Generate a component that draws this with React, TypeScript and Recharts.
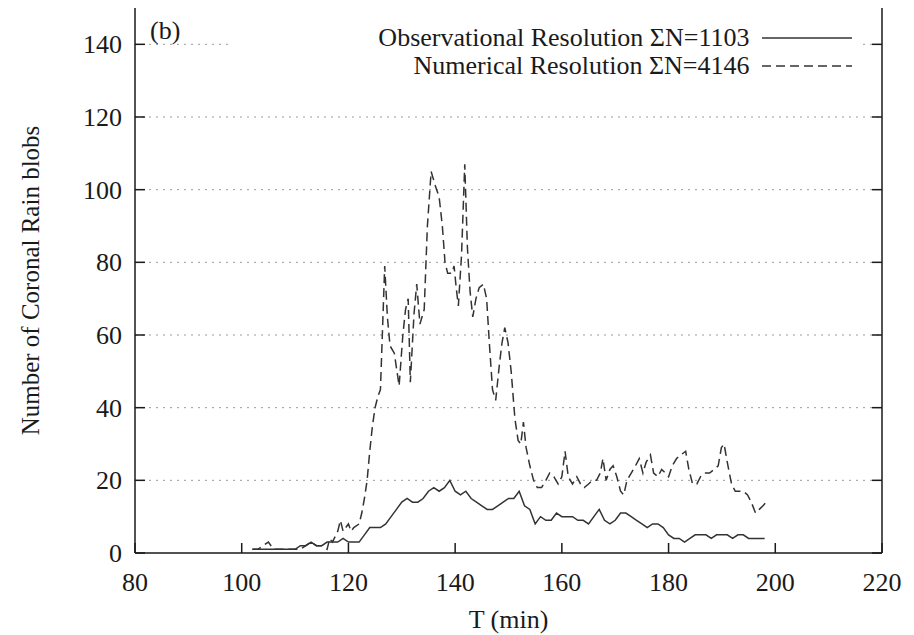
import React from "react";
import {
  LineChart,
  Line,
  XAxis,
  YAxis,
  CartesianGrid,
  Legend,
} from "recharts";

// observational resolution (solid)
const obsT = [
  102, 103, 104, 105, 106, 107, 108, 109, 110, 111, 112, 113, 114, 115, 116,
  117, 118, 119, 120, 121, 122, 123, 124, 125, 126, 127, 128, 129, 130, 131,
  132, 133, 134, 135, 136, 137, 138, 139, 140, 141, 142, 143, 144, 145, 146,
  147, 148, 149, 150, 151, 152, 153, 154, 155, 156, 157, 158, 159, 160, 161,
  162, 163, 164, 165, 166, 167, 168, 169, 170, 171, 172, 173, 174, 175, 176,
  177, 178, 179, 180, 181, 182, 183, 184, 185, 186, 187, 188, 189, 190, 191,
  192, 193, 194, 195, 196, 197, 198,
];
const obsN = [
  1, 1, 1, 1, 1, 1, 1, 1, 1, 2, 2, 3, 2, 2, 3,
  3, 3, 4, 3, 3, 3, 5, 7, 7, 7, 8, 10, 12, 14, 15,
  14, 14, 15, 17, 18, 17, 18, 20, 17, 16, 17, 15, 14, 13, 12,
  12, 13, 14, 15, 15, 17, 13, 12, 8, 10, 9, 9, 11, 10, 10,
  10, 9, 9, 8, 10, 12, 9, 8, 9, 11, 11, 10, 9, 8, 7,
  8, 8, 7, 5, 4, 4, 3, 4, 5, 5, 5, 4, 5, 5, 5,
  4, 5, 5, 4, 4, 4, 4,
];

// numerical resolution (dashed)
const numT = [
  102, 103, 104, 105, 106, 107, 108, 109, 110, 111, 112, 113, 114, 115, 116,
  116.5, 117, 118, 118.5, 119, 120, 120.5, 121, 122, 122.5, 123, 123.5, 124,
  124.5, 125, 125.5, 126, 126.8, 127.3, 127.8, 128.6, 129.5, 130.2, 130.7,
  131.2, 131.6, 132.3, 132.8, 133.4, 134.2, 134.8, 135.5, 136.3, 137, 137.6,
  138.1, 138.6, 139.4, 139.8, 140.2, 140.6, 141.2, 141.8, 142.3, 142.8, 143.3,
  143.9, 144.5, 145.3, 145.9, 146.4, 147, 147.6, 148.3, 148.8, 149.3, 149.9,
  150.5, 151.2, 151.8, 152.3, 152.8, 153.3, 154, 154.7, 155.4, 156.2, 157,
  157.7, 158.5, 159.3, 160, 160.6, 161.2, 162, 162.8, 163.5, 164.2, 165, 165.7,
  166.5, 167.2, 167.7, 168.3, 169, 169.6, 170.3, 171, 171.6, 172.2, 173, 173.8,
  174.5, 175.2, 175.8, 176.6, 177.2, 178, 178.7, 179.4, 180, 180.7, 181.5,
  182.3, 183.2, 183.8, 184.5, 185.3, 186, 186.8, 187.7, 188.5, 189.3, 189.9,
  190.4, 191, 191.8, 192.5, 193.2, 194, 194.8, 195.5, 196.3, 197, 197.7, 198.3,
];
const numN = [
  1, 1, 2, 3, 1, 1, 1, 1, 1, 1, 2, 3, 2, 2, 1,
  4, 3, 6, 9, 6, 8, 6, 7, 8, 11, 15, 20, 28,
  35, 40, 43, 45, 79, 65, 57, 55, 46, 60, 67,
  70, 47, 66, 74, 63, 67, 90, 105, 101, 98, 90,
  80, 77, 77, 79, 73, 68, 82, 107, 84, 72, 65,
  70, 73, 74, 70, 58, 45, 42, 52, 58, 62, 58,
  50, 37, 31, 30, 36, 29, 24, 20, 18, 18, 20,
  22, 21, 19, 21, 28, 21, 19, 21, 19, 18, 19, 20,
  20, 22, 26, 20, 23, 24, 21, 17, 16, 20, 22, 24,
  26, 22, 25, 27, 22, 21, 23, 22, 21, 24, 26,
  27, 28, 23, 19, 19, 21, 22, 22, 23, 24, 29,
  30, 25, 19, 17, 17, 17, 16, 14, 11, 12, 13, 14,
];

const xTicks = [80, 100, 120, 140, 160, 180, 200, 220];
const yTicks = [0, 20, 40, 60, 80, 100, 120, 140];

const obsLabel = "Observational Resolution \u03A3N=1103";
const numLabel = "Numerical Resolution \u03A3N=4146";
const keyOrder = [obsLabel, numLabel];

const obsData = obsT.map((t, i) => ({ t, n: obsN[i] }));
const numData = numT.map((t, i) => ({ t, n: numN[i] }));

const FONT = "'Liberation Serif', 'Times New Roman', serif";
const INK = "#1a1a1a";
const FS = 26;

const BottomTick = (props: any) => {
  const { x, y, payload } = props;
  return (
    <g>
      <line x1={x} y1={y} x2={x} y2={y - 10} stroke={INK} strokeWidth={1.5} />
      <text x={x} y={y + 38} textAnchor="middle" fontFamily={FONT} fontSize={FS} fill={INK}>
        {payload.value}
      </text>
    </g>
  );
};

const LeftTick = (props: any) => {
  const { x, y, payload } = props;
  return (
    <g>
      <line x1={x} y1={y} x2={x + 10} y2={y} stroke={INK} strokeWidth={1.5} />
      <text x={x - 13} y={y + 9} textAnchor="end" fontFamily={FONT} fontSize={FS} fill={INK}>
        {payload.value}
      </text>
    </g>
  );
};

const TopTick = (props: any) => {
  const { x, y } = props;
  return <line x1={x} y1={y} x2={x} y2={y + 10} stroke={INK} strokeWidth={1.5} />;
};

const RightTick = (props: any) => {
  const { x, y } = props;
  return <line x1={x} y1={y} x2={x - 10} y2={y} stroke={INK} strokeWidth={1.5} />;
};

const YTitle = (props: any) => {
  const { viewBox } = props;
  const cx = viewBox.x + 30;
  const cy = viewBox.y + viewBox.height / 2;
  return (
    <text
      x={cx}
      y={cy}
      transform={`rotate(-90 ${cx} ${cy})`}
      textAnchor="middle"
      dominantBaseline="central"
      fontFamily={FONT}
      fontSize={25}
      fill={INK}
    >
      Number of Coronal Rain blobs
    </text>
  );
};

const XTitle = (props: any) => {
  const { viewBox } = props;
  const cx = viewBox.x + viewBox.width / 2;
  return (
    <text x={cx} y={viewBox.y + 75} textAnchor="middle" fontFamily={FONT} fontSize={FS} fill={INK}>
      T (min)
    </text>
  );
};

const KeyBox = (props: any) => {
  const items = [...(props.payload || [])].sort(
    (a: any, b: any) => keyOrder.indexOf(a.value) - keyOrder.indexOf(b.value)
  );
  return (
    <div style={{ background: "#fff", width: 630, paddingTop: 1 }}>
      {items.map((entry: any) => (
        <div key={entry.value} style={{ display: "flex", alignItems: "center", height: 28 }}>
          <span
            style={{
              width: 520,
              textAlign: "right",
              fontFamily: FONT,
              fontSize: FS,
              lineHeight: "28px",
              color: INK,
              whiteSpace: "nowrap",
            }}
          >
            {entry.value}
          </span>
          <svg width={100} height={28} style={{ marginLeft: 13 }}>
            <line
              x1={0}
              y1={14}
              x2={90}
              y2={14}
              stroke="#333"
              strokeWidth={1.5}
              strokeDasharray={entry.payload?.strokeDasharray}
            />
          </svg>
        </div>
      ))}
    </div>
  );
};

export default function App() {
  return (
    <div style={{ position: "absolute", left: 0, top: 0, background: "#fff" }}>
      <LineChart
        width={914}
        height={635}
        margin={{ top: 8, right: 0, bottom: 0, left: 0 }}
      >
        <CartesianGrid
          vertical={false}
          horizontalValues={yTicks.slice(1)}
          stroke="#9a9a9a"
          strokeDasharray="2 5"
          yAxisId="left"
        />
        <XAxis
          xAxisId="bottom"
          dataKey="t"
          type="number"
          domain={[80, 220]}
          ticks={xTicks}
          interval={0}
          allowDataOverflow
          height={82}
          tickSize={0}
          tickMargin={0}
          tick={<BottomTick />}
          axisLine={{ stroke: INK, strokeWidth: 1.5 }}
          label={<XTitle />}
        />
        <XAxis
          xAxisId="top"
          orientation="top"
          dataKey="t"
          type="number"
          domain={[80, 220]}
          ticks={xTicks}
          interval={0}
          allowDataOverflow
          height={0}
          tickSize={0}
          tickMargin={0}
          tick={<TopTick />}
          axisLine={{ stroke: INK, strokeWidth: 1.5 }}
        />
        <YAxis
          yAxisId="left"
          type="number"
          domain={[0, 150]}
          ticks={yTicks}
          interval={0}
          allowDataOverflow
          width={135}
          tickSize={0}
          tickMargin={0}
          tick={<LeftTick />}
          axisLine={{ stroke: INK, strokeWidth: 1.5 }}
          label={<YTitle />}
        />
        <YAxis
          yAxisId="right"
          orientation="right"
          type="number"
          domain={[0, 150]}
          ticks={yTicks}
          interval={0}
          allowDataOverflow
          width={32}
          tickSize={0}
          tickMargin={0}
          tick={<RightTick />}
          axisLine={{ stroke: INK, strokeWidth: 1.5 }}
        />
        <Legend
          layout="horizontal"
          verticalAlign="middle"
          align="center"
          wrapperStyle={{ left: 232, top: 23, width: 630, height: 58 }}
          content={<KeyBox />}
        />
        <Line
          name={obsLabel}
          data={obsData}
          dataKey="n"
          xAxisId="bottom"
          yAxisId="left"
          type="linear"
          stroke="#333"
          strokeWidth={1.5}
          dot={false}
          activeDot={false}
          isAnimationActive={false}
        />
        <Line
          name={numLabel}
          data={numData}
          dataKey="n"
          xAxisId="bottom"
          yAxisId="left"
          type="linear"
          stroke="#333"
          strokeWidth={1.5}
          strokeDasharray="9 5"
          dot={false}
          activeDot={false}
          isAnimationActive={false}
        />
        <text x={150} y={39} fontFamily={FONT} fontSize={FS} fill={INK}>
          (b)
        </text>
      </LineChart>
    </div>
  );
}
